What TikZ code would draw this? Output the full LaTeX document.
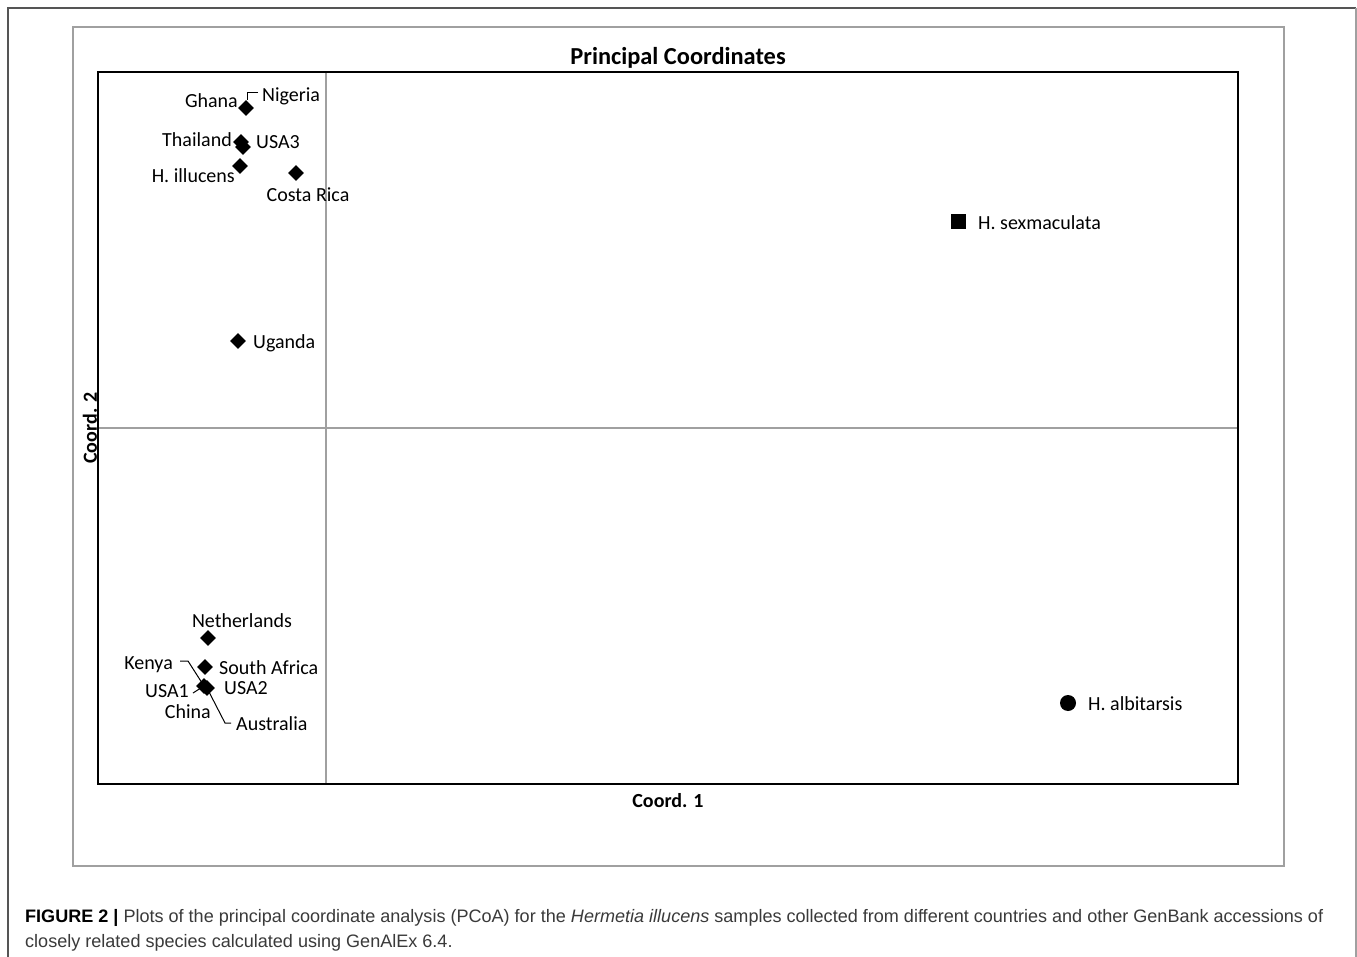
\documentclass[tikz,border=0pt]{standalone}
\usepackage{fontspec}
\setmainfont{Carlito}
\newfontfamily\capfont{Liberation Sans}
\usetikzlibrary{shapes.geometric}
\definecolor{framegray}{HTML}{A0A0A0}
\definecolor{outerdark}{HTML}{555555}
\definecolor{captext}{HTML}{3A3A3A}
\tikzset{
  dia/.style={diamond,fill=black,inner sep=0pt,minimum width=16pt,minimum height=16pt},
  sq/.style={rectangle,fill=black,inner sep=0pt,minimum size=15pt},
  dot/.style={circle,fill=black,inner sep=0pt,minimum size=16pt},
  lbl/.style={inner sep=0pt,font=\fontsize{20}{23}\selectfont},
  leader/.style={draw=black,line width=1pt},
  grid/.style={draw=framegray,line width=1.5pt},
}
\begin{document}
\begin{tikzpicture}[x=1pt,y=-1pt]
\useasboundingbox (0,0) rectangle (1357,957);
\fill[white] (0,0) rectangle (1357,957);
% outer frame
\draw[outerdark,line width=1.3pt] (8,960) -- (8,8) -- (1356,8);
\draw[framegray,line width=1.3pt] (1356,8) -- (1356,960);
% inner frame
\draw[framegray,line width=1.5pt] (73,27) rectangle (1284,866);
% grid lines
\draw[grid] (326,72) -- (326,784);
\draw[grid] (98,428) -- (1238,428);
% plot box
\draw[black,line width=1.8pt] (98,72) rectangle (1238,784);
% titles
\node[inner sep=0pt,font=\fontsize{24.4}{27}\selectfont\bfseries] (title) at (678,58) {Principal Coordinates};
\node[inner sep=0pt,font=\fontsize{20}{23}\selectfont\bfseries] (xlab) at (668,801) {Coord. 1};
\node[inner sep=0pt,font=\fontsize{20}{23}\selectfont\bfseries,rotate=90] (ylab) at (90,428) {Coord. 2};
% markers
\node[dia] (ng) at (246,108) {};
\node[dia] (th) at (241,142) {};
\node[dia] (us3) at (243,147) {};
\node[dia] (hi) at (240,166) {};
\node[dia] (cr) at (296,173) {};
\node[dia] (ug) at (238,341) {};
\node[sq] (hs) at (958,222) {};
\node[dia] (nl) at (208,638) {};
\node[dia] (sa) at (205,667) {};
\node[dia] (us1) at (204,686) {};
\node[dia] (us2) at (207,688) {};
\node[dot] (ha) at (1068,703) {};
% labels
\node[lbl,anchor=mid east] (lgh) at (238,105) {Ghana};
\node[lbl,anchor=mid west] (lng) at (262,99) {Nigeria};
\node[lbl,anchor=mid east] (lth) at (232,144) {Thailand};
\node[lbl,anchor=mid west] (lus3) at (256,146) {USA3};
\node[lbl,anchor=mid east] (lhi) at (235,180) {H. illucens};
\node[lbl] (lcr) at (308,195) {Costa Rica};
\node[lbl,anchor=mid west] (lug) at (253,346) {Uganda};
\node[lbl,anchor=mid west] (lhs) at (978,227) {H. sexmaculata};
\node[lbl] (lnl) at (242,621) {Netherlands};
\node[lbl,anchor=mid east] (lke) at (173,667) {Kenya};
\node[lbl,anchor=mid west] (lsa) at (219,672) {South Africa};
\node[lbl,anchor=mid east] (lus1) at (189,695) {USA1};
\node[lbl,anchor=mid west] (lus2) at (224,692) {USA2};
\node[lbl,anchor=mid east] (lch) at (211,716) {China};
\node[lbl,anchor=mid west] (lau) at (236,728) {Australia};
\node[lbl,anchor=mid west] (lha) at (1088,708) {H. albitarsis};
% leader lines
\coordinate (ngA) at (258,93);
\coordinate (ngB) at (247,93);
\coordinate (ngC) at (247,100);
\draw[leader] (ngA) -- (ngB) -- (ngC);
\coordinate (keA) at (180,661);
\coordinate (keB) at (188,661);
\draw[leader] (keA) -- (keB) -- (us1.center);
\coordinate (auA) at (225,723);
\coordinate (auB) at (231,723);
\draw[leader] (us2.center) -- (auA) -- (auB);
\coordinate (u1A) at (193,693);
\draw[leader] (u1A) -- (us1.center);
% caption
\node[inner sep=0pt,anchor=base west,font=\capfont\fontsize{18.05}{20}\selectfont,text=captext] (cap1) at (25,922)
  {{\color{black}\bfseries FIGURE 2 |} Plots of the principal coordinate analysis (PCoA) for the \emph{Hermetia illucens} samples collected from different countries and other GenBank accessions of};
\node[inner sep=0pt,anchor=base west,font=\capfont\fontsize{18.05}{20}\selectfont,text=captext] (cap2) at (25,947)
  {closely related species calculated using GenAlEx 6.4.};
\end{tikzpicture}
\end{document}
